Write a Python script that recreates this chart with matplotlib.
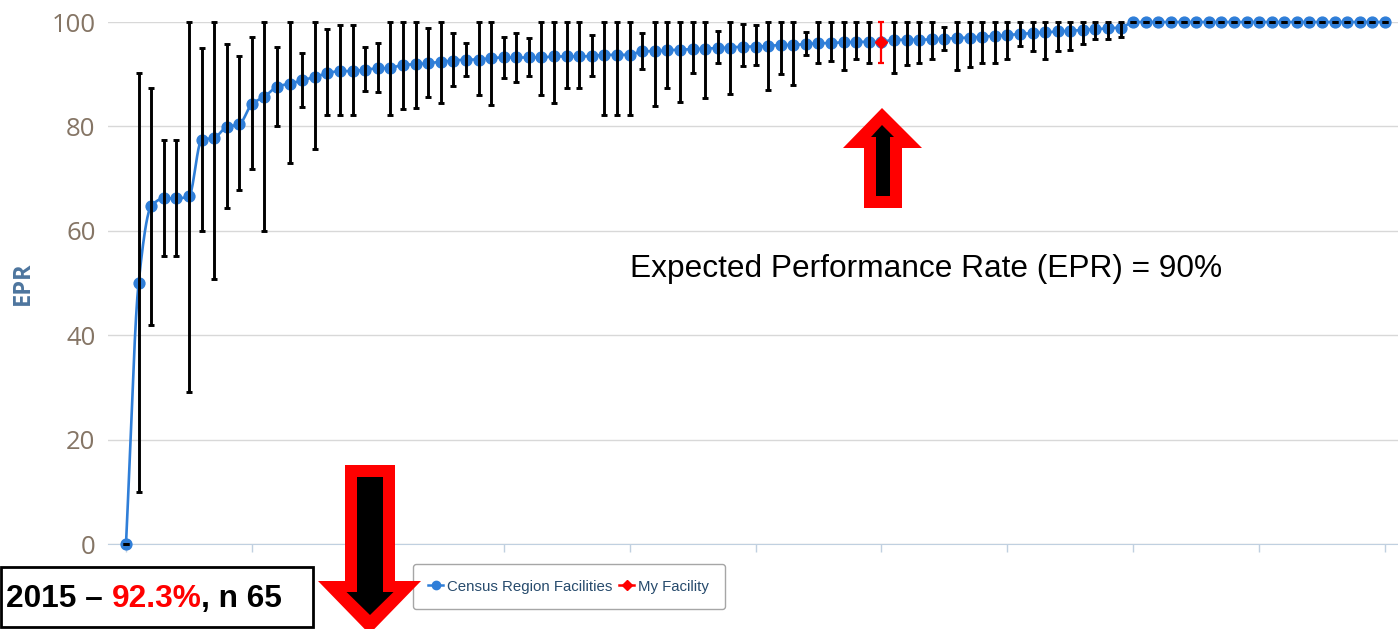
import numpy as np
import matplotlib
matplotlib.use('Agg')
from matplotlib import pyplot as plt
from matplotlib.patches import Polygon, Rectangle
from matplotlib.lines import Line2D

# facility index along the x axis (sorted by EPR)
facility = np.arange(101)

epr = [0, 50, 64.7, 66.2, 66.2, 66.6, 77.4, 77.8, 79.9, 80.4,
       84.3, 85.7, 87.6, 88.2, 88.8, 89.5, 90.2, 90.6, 90.6, 90.9,
       91.1, 91.2, 91.8, 91.9, 92.1, 92.4, 92.6, 92.8, 92.8, 93.1,
       93.2, 93.2, 93.2, 93.2, 93.4, 93.4, 93.4, 93.5, 93.7, 93.7,
       93.7, 94.4, 94.4, 94.6, 94.7, 94.8, 94.9, 95.0, 95.1, 95.3,
       95.3, 95.4, 95.6, 95.6, 95.8, 95.9, 96.0, 96.1, 96.2, 96.2,
       96.2, 96.6, 96.6, 96.6, 96.7, 96.8, 96.9, 97.0, 97.2, 97.3,
       97.5, 97.7, 97.9, 98.0, 98.2, 98.3, 98.5, 98.6, 98.8, 98.9] + [100] * 21

epr_low = [0, 10, 42, 55.1, 55.1, 29.2, 60, 50.7, 64.3, 67.9,
           71.8, 60, 80.1, 72.9, 83.7, 75.7, 82.1, 82.1, 82.1, 86.8,
           86.6, 82.1, 83.3, 83.6, 85.7, 84.4, 87.7, 89.6, 86.1, 84.1,
           89.3, 88.6, 89.6, 86.1, 84.4, 87.4, 87.4, 89.6, 82.2, 82.2,
           82.2, 91.0, 83.9, 87.4, 84.7, 90.3, 85.4, 92.2, 86.3, 91.5,
           91.8, 86.9, 90.0, 88.0, 93.7, 92.2, 92.6, 90.8, 92.9, 92.2,
           92.2, 90.3, 91.8, 92.2, 92.9, 94.6, 90.8, 91.3, 92.2, 92.2,
           92.9, 95.4, 94.4, 92.9, 94.4, 94.6, 95.7, 96.8, 96.8, 97.1] + [100] * 21

epr_high = [0, 90.3, 87.4, 77.4, 77.4, 100, 95, 100, 95.8, 93.5,
            97.1, 100, 95.2, 100, 94.1, 100, 98.6, 99.4, 99.4, 95.2,
            96.0, 100, 100, 100, 98.8, 100, 97.8, 95.9, 100, 100,
            97.2, 97.8, 96.9, 100, 100, 100, 100, 97.5, 100, 100,
            100, 97.8, 100, 100, 100, 100, 100, 98.3, 100, 99.7,
            99.4, 100, 100, 100, 98.0, 100, 100, 100, 100, 100,
            100, 100, 100, 100, 100, 99.1, 100, 100, 100, 100,
            100, 100, 100, 100, 100, 100, 100, 100, 100, 100] + [100] * 21

my_facility = 60
yticks = [0, 20, 40, 60, 80, 100]
xticks = np.arange(0, 101, 10)

epr = np.array(epr)
epr_low = np.array(epr_low)
epr_high = np.array(epr_high)


def monotone_spline(x, y, n=20):
    # smooth line through the points (like the web chart's spline)
    x = np.asarray(x, float)
    y = np.asarray(y, float)
    h = np.diff(x)
    delta = np.diff(y) / h
    d = np.zeros_like(y)
    d[0], d[-1] = delta[0], delta[-1]
    for k in range(1, len(x) - 1):
        if delta[k - 1] * delta[k] > 0:
            w1 = 2 * h[k] + h[k - 1]
            w2 = h[k] + 2 * h[k - 1]
            d[k] = (w1 + w2) / (w1 / delta[k - 1] + w2 / delta[k])
    xs, ys = [], []
    for k in range(len(x) - 1):
        t = np.linspace(0, 1, n, endpoint=False)
        h00 = 2 * t**3 - 3 * t**2 + 1
        h10 = t**3 - 2 * t**2 + t
        h01 = -2 * t**3 + 3 * t**2
        h11 = t**3 - t**2
        xs.append(x[k] + t * h[k])
        ys.append(h00 * y[k] + h10 * h[k] * d[k] + h01 * y[k + 1] + h11 * h[k] * d[k + 1])
    xs.append([x[-1]])
    ys.append([y[-1]])
    return np.concatenate(xs), np.concatenate(ys)


W, H = 1398, 629
fig = plt.figure(figsize=(W / 100, H / 100), dpi=100)

ax = fig.add_axes([108 / W, 1 - 544 / H, 1290 / W, 522 / H])
ax.set_xlim(-1.43, 101.03)
ax.set_ylim(0, 100)

blue = '#2f7ed8'
sx, sy = monotone_spline(facility, epr)
ax.plot(sx, sy, color=blue, lw=1.9, zorder=3, clip_on=False)
ax.plot(facility, epr, 'o', color=blue, ms=7.8, zorder=4, clip_on=False)

others = facility != my_facility
ax.errorbar(facility[others], epr[others],
            yerr=[epr[others] - epr_low[others], epr_high[others] - epr[others]],
            fmt='none', ecolor='black', elinewidth=2.1, capsize=2.2, capthick=2.1,
            zorder=5, clip_on=False)

ax.errorbar([my_facility], [epr[my_facility]],
            yerr=[[epr[my_facility] - epr_low[my_facility]],
                  [epr_high[my_facility] - epr[my_facility]]],
            fmt='D', color='red', ms=6.5, ecolor='red', elinewidth=1.6, capsize=2.2,
            capthick=1.6, zorder=6, clip_on=False)

ax.set_yticks(yticks)
ax.set_xticks(xticks)
ax.set_xticklabels([])
ax.yaxis.grid(True, color='#d8d8d8', lw=1)
ax.set_axisbelow(True)
for s in ['top', 'right', 'left']:
    ax.spines[s].set_visible(False)
ax.spines['bottom'].set_color('#c0d0e0')
ax.spines['bottom'].set_zorder(1)
ax.tick_params(axis='y', length=0, pad=9, labelsize=18.5, labelcolor='#857565')
ax.tick_params(axis='x', direction='out', length=6, width=1, color='#c0d0e0')
for lab in ax.get_yticklabels():
    lab.set_family(['Open Sans', 'DejaVu Sans'])

ax.set_ylabel('EPR', fontsize=17, fontweight='bold', color='#4d759e',
              family=['Open Sans', 'DejaVu Sans'])
ax.yaxis.set_label_coords(-0.057, 0.5)

handles = [Line2D([], [], color=blue, lw=1.8, marker='o', ms=6),
           Line2D([], [], color='red', lw=1.8, marker='D', ms=5)]
leg = ax.legend(handles, ['Census Region Facilities', 'My Facility'], ncol=2,
                loc='center', bbox_to_anchor=((427 + 710) / 2 / W, 1 - 586.5 / H),
                bbox_transform=fig.transFigure, frameon=True, fancybox=True,
                handlelength=1.0, handletextpad=0.25, columnspacing=0.45,
                borderpad=1.05, borderaxespad=0, labelcolor='#274b6d',
                prop={'family': ['Liberation Sans', 'DejaVu Sans'], 'size': 10.8})
leg.get_frame().set_edgecolor('#909090')
leg.get_frame().set_linewidth(1.0)

# overlay in pixel coordinates for the slide annotations
ov = fig.add_axes([0, 0, 1, 1])
ov.set_xlim(0, W)
ov.set_ylim(H, 0)
ov.axis('off')

ov.text(630, 277, 'Expected Performance Rate (EPR) = 90%', fontsize=22.8,
        family='Liberation Sans', color='black', va='baseline', ha='left')

ov.add_patch(Rectangle((1, 567), 312, 60, facecolor='white', edgecolor='black', lw=2))
bold = dict(fontsize=22.8, family='Liberation Sans', fontweight='bold')
t1 = ov.text(6, 607, '2015 \u2013 ', va='baseline', ha='left', color='black', **bold)
t2 = ov.annotate('92.3%', xy=(1, 0), xycoords=t1, va='bottom', ha='left', color='red', **bold)
ov.annotate(', n 65', xy=(1, 0), xycoords=t2, va='bottom', ha='left', color='black', **bold)

# red/black arrows
up_outer = [(882, 108), (922, 148), (902, 148), (902, 208), (864, 208), (864, 148), (843, 148)]
up_inner = [(882, 125), (894, 137), (890, 137), (890, 196), (876, 196), (876, 137), (871, 137)]
dn_outer = [(345, 465), (395, 465), (395, 581), (421, 581), (369.5, 634), (318, 581), (345, 581)]
dn_inner = [(357, 477), (383, 477), (383, 592), (393.5, 592), (370, 615), (346.5, 592), (357, 592)]
for pts, col in [(up_outer, 'red'), (up_inner, 'black'), (dn_outer, 'red'), (dn_inner, 'black')]:
    ov.add_patch(Polygon(pts, closed=True, facecolor=col, edgecolor='none'))

fig.savefig('out.png', dpi=100)
